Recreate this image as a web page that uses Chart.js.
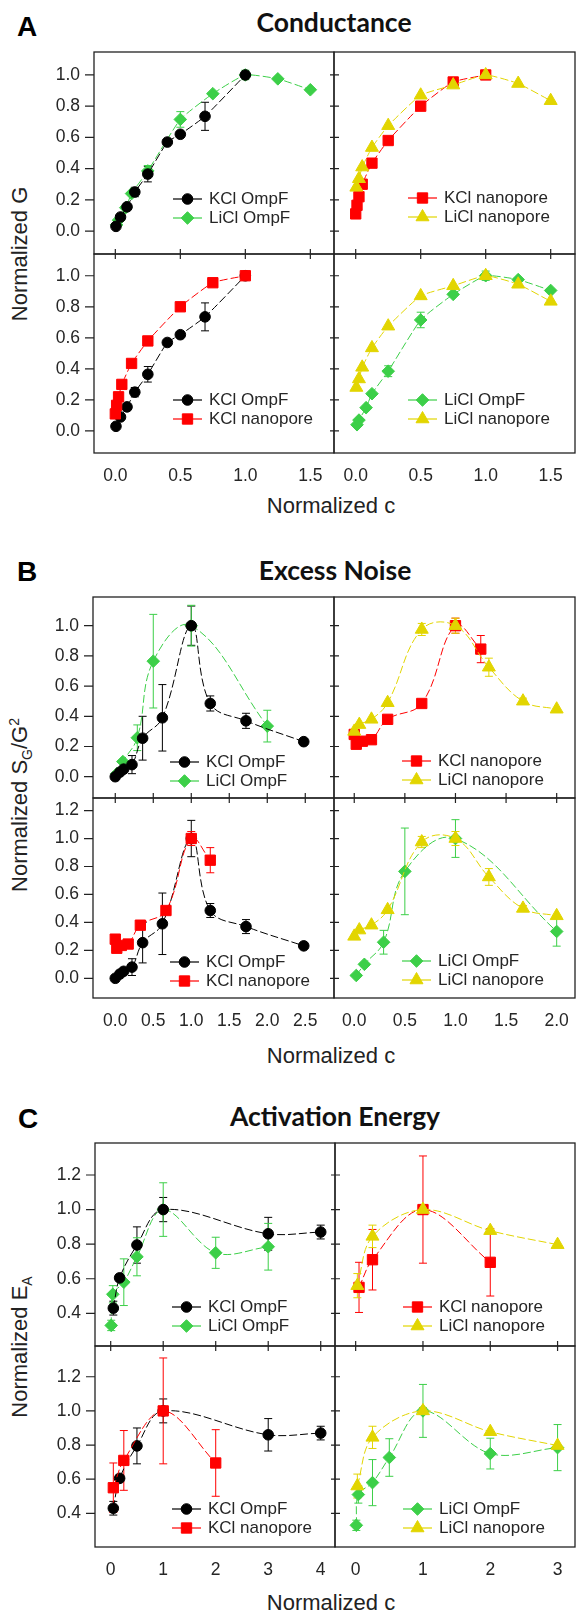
<!DOCTYPE html>
<html>
<head>
<meta charset="utf-8">
<script src="https://cdn.jsdelivr.net/npm/chart.js@4.4.1/dist/chart.umd.min.js"></script>
<style>
  html, body { margin: 0; padding: 0; background: #fff; }
  body { width: 576px; height: 1613px; position: relative; overflow: hidden; }
  canvas { position: absolute; }
  .lbl { position: absolute; font: bold 28px "Liberation Sans", Arial, sans-serif; line-height: 1; color: #000; }
  .ttl { position: absolute; font: bold 26.5px Lato, sans-serif; line-height: 1; color: #111; transform: translateX(-50%); white-space: nowrap; }
  .ax { position: absolute; font: 22px "Liberation Sans", Arial, sans-serif; line-height: 1; color: #222; white-space: nowrap; transform: translate(-50%, -50%); }
  .ax.rot { transform: translate(-50%, -50%) rotate(-90deg); }
  .ax sub, .ax sup { font-size: 14px; line-height: 0; }
</style>
</head>
<body>
<div class="lbl" style="left:17px;top:13px">A</div>
<div class="lbl" style="left:17px;top:558px">B</div>
<div class="lbl" style="left:18px;top:1105px">C</div>
<div class="ttl" style="left:334px;top:9px">Conductance</div>
<div class="ttl" style="left:335px;top:557px">Excess Noise</div>
<div class="ttl" style="left:335px;top:1103px">Activation Energy</div>
<div class="ax rot" style="left:20px;top:254px">Normalized G</div>
<div class="ax rot" style="left:20px;top:805px">Normalized S<sub>G</sub>/G<sup>2</sup></div>
<div class="ax rot" style="left:20px;top:1347px">Normalized E<sub>A</sub></div>
<div class="ax" style="left:331px;top:506px">Normalized c</div>
<div class="ax" style="left:331px;top:1056px">Normalized c</div>
<div class="ax" style="left:331px;top:1603px">Normalized c</div>

<script>
// ---- A: conductance (normalized G vs normalized c)
const gKclOmpfC   = [0.005, 0.04, 0.09, 0.15, 0.25, 0.4, 0.5, 0.69, 1.0];
const gKclOmpf    = [0.03, 0.09, 0.155, 0.25, 0.365, 0.57, 0.62, 0.735, 1.0];
const gKclOmpfErr = [0, 0, 0.01, 0.03, 0.05, 0, 0.015, 0.09, 0];
const gLiclOmpfC   = [0.01, 0.025, 0.08, 0.125, 0.25, 0.5, 0.75, 1.0, 1.25, 1.5];
const gLiclOmpf    = [0.04, 0.07, 0.15, 0.24, 0.385, 0.715, 0.88, 1.0, 0.975, 0.905];
const gLiclOmpfErr = [0, 0, 0, 0, 0.035, 0.05, 0, 0.03, 0, 0];
const gKclNanoC = [0.0, 0.01, 0.025, 0.05, 0.125, 0.25, 0.5, 0.75, 1.0];
const gKclNano  = [0.11, 0.165, 0.22, 0.3, 0.435, 0.58, 0.80, 0.955, 1.0];
const gLiclNanoC = [0.005, 0.025, 0.05, 0.125, 0.25, 0.5, 0.75, 1.0, 1.25, 1.5];
const gLiclNano  = [0.28, 0.335, 0.41, 0.535, 0.675, 0.87, 0.935, 1.0, 0.945, 0.835];
const gTicksX = [0, 0.5, 1.0, 1.5];
const gTicksY = [0, 0.2, 0.4, 0.6, 0.8, 1.0];

// ---- B: excess noise (normalized S_G/G^2)
const nKclOmpfC   = [0.0, 0.06, 0.11, 0.22, 0.36, 0.62, 1.0, 1.25, 1.72, 2.48];
const nKclOmpf    = [0.0, 0.03, 0.05, 0.08, 0.255, 0.39, 1.0, 0.485, 0.37, 0.232];
const nKclOmpfErr = [0, 0, 0, 0.06, 0.145, 0.22, 0.13, 0.05, 0.05, 0.02];
const nLiclOmpfC   = [0.02, 0.1, 0.29, 0.5, 1.0, 2.0];
const nLiclOmpf    = [0.02, 0.1, 0.258, 0.765, 1.0, 0.335];
const nLiclOmpfErr = [0, 0, 0.085, 0.31, 0.135, 0.105];
const nKclNanoC   = [0.0, 0.02, 0.08, 0.17, 0.33, 0.667, 1.0, 1.25];
const nKclNano    = [0.28, 0.215, 0.235, 0.245, 0.38, 0.485, 1.0, 0.845];
const nKclNanoErr = [0, 0, 0, 0, 0, 0, 0.05, 0.09];
const nLiclNanoC   = [0.0, 0.05, 0.17, 0.33, 0.667, 1.0, 1.33, 1.667, 2.0];
const nLiclNano    = [0.30, 0.345, 0.38, 0.49, 0.975, 1.0, 0.725, 0.5, 0.447];
const nLiclNanoErr = [0, 0, 0, 0, 0.04, 0.05, 0.06, 0.02, 0];
const nTicksXLeft  = [0, 0.5, 1.0, 1.5, 2.0, 2.5];
const nTicksXRight = [0, 0.5, 1.0, 1.5, 2.0];
const nTicksYTop    = [0, 0.2, 0.4, 0.6, 0.8, 1.0];
const nTicksYBottom = [0, 0.2, 0.4, 0.6, 0.8, 1.0, 1.2];

// ---- C: activation energy (normalized E_A)
const eKclOmpfC   = [0.05, 0.17, 0.5, 1.0, 3.0, 4.0];
const eKclOmpf    = [0.43, 0.605, 0.795, 1.0, 0.86, 0.87];
const eKclOmpfErr = [0.04, 0.02, 0.105, 0.07, 0.095, 0.04];
const eLiclOmpfC   = [0.01, 0.04, 0.25, 0.5, 1.0, 2.0, 3.0];
const eLiclOmpf    = [0.33, 0.51, 0.58, 0.727, 1.0, 0.75, 0.785];
const eLiclOmpfErr = [0.03, 0.05, 0.135, 0.11, 0.155, 0.09, 0.135];
const eKclNanoC   = [0.05, 0.25, 1.0, 2.0];
const eKclNano    = [0.55, 0.71, 1.0, 0.695];
const eKclNanoErr = [0.145, 0.175, 0.31, 0.195];
const eLiclNanoC   = [0.025, 0.25, 1.0, 2.0, 3.0];
const eLiclNano    = [0.56, 0.845, 1.0, 0.878, 0.797];
const eLiclNanoErr = [0.07, 0.065, 0.02, 0, 0];
const eTicksXLeft  = [0, 1, 2, 3, 4];
const eTicksXRight = [0, 1, 2, 3];
const eTicksY = [0.4, 0.6, 0.8, 1.0, 1.2];

const FONT = '"Liberation Sans", Arial, sans-serif';
Chart.defaults.font.family = FONT;
Chart.defaults.color = '#262626';

const SERIES = {
  kclOmpf:  { label: 'KCl OmpF',      color: '#000000', pointStyle: 'circle',   radius: 5.3 },
  liclOmpf: { label: 'LiCl OmpF',     color: '#3ccf48', pointStyle: 'rectRot',  radius: 6.3 },
  kclNano:  { label: 'KCl nanopore',  color: '#ff0000', pointStyle: 'rect',     radius: 7.3 },
  liclNano: { label: 'LiCl nanopore', color: '#e2d500', pointStyle: 'triangle', radius: 7.5 },
};

function series(key, xs, ys, errs, order, tension) {
  const s = SERIES[key];
  return {
    label: s.label,
    data: xs.map((x, i) => ({ x: x, y: ys[i] })),
    err: errs || null,
    borderColor: s.color, backgroundColor: s.color,
    borderWidth: 1, borderDash: [8, 3],
    pointStyle: s.pointStyle, pointRadius: s.radius, pointBorderWidth: 1,
    pointBackgroundColor: s.color, pointBorderColor: s.color,
    showLine: true, tension: tension, order: order, clip: false
  };
}

// vertical error bars, drawn under the markers
const errorBars = {
  id: 'errorBars',
  beforeDatasetsDraw(chart) {
    const { ctx, scales: { x, y } } = chart;
    chart.data.datasets.forEach(ds => {
      if (!ds.err) return;
      ctx.save();
      ctx.strokeStyle = ds.borderColor;
      ctx.lineWidth = 1;
      ctx.beginPath();
      ds.data.forEach((p, j) => {
        const e = ds.err[j];
        if (!e) return;
        const px = x.getPixelForValue(p.x);
        const top = y.getPixelForValue(p.y + e), bot = y.getPixelForValue(p.y - e);
        ctx.moveTo(px, top); ctx.lineTo(px, bot);
        ctx.moveTo(px - 4, top); ctx.lineTo(px + 4, top);
        ctx.moveTo(px - 4, bot); ctx.lineTo(px + 4, bot);
      });
      ctx.stroke();
      ctx.restore();
    });
  }
};

// box around the plot area + tick marks
const framePlugin = {
  id: 'frame',
  afterDraw(chart, args, o) {
    const { ctx, chartArea: a, scales: { x, y } } = chart;
    ctx.save();
    ctx.strokeStyle = '#222';
    ctx.lineWidth = 1.3;
    ctx.strokeRect(a.left, a.top, a.right - a.left, a.bottom - a.top);
    ctx.lineWidth = 1.2;
    ctx.beginPath();
    o.yTicks.forEach(v => {
      const py = y.getPixelForValue(v);
      ctx.moveTo(a.left - o.yOut, py); ctx.lineTo(a.left + o.yIn, py);
    });
    if (o.xTicks) o.xTicks.forEach(v => {
      const px = x.getPixelForValue(v);
      ctx.moveTo(px, a.bottom - 5); ctx.lineTo(px, a.bottom + 5);
    });
    ctx.stroke();
    ctx.restore();
  }
};

// legend in the lower right of each panel: line + marker + text
const legendPlugin = {
  id: 'panelLegend',
  afterDraw(chart, args, o) {
    const { ctx, chartArea: a } = chart;
    chart.data.datasets.forEach((ds, i) => {
      const yy = a.bottom - o.y + i * 19;
      const x0 = a.left + o.x;
      ctx.save();
      ctx.strokeStyle = ds.borderColor;
      ctx.fillStyle = ds.borderColor;
      ctx.lineWidth = 1.2;
      ctx.beginPath(); ctx.moveTo(x0, yy); ctx.lineTo(x0 + 29, yy); ctx.stroke();
      ctx.lineWidth = 1;
      Chart.helpers.drawPoint(ctx, { pointStyle: ds.pointStyle, radius: ds.pointRadius, rotation: 0, borderWidth: 1 }, x0 + 14.5, yy);
      ctx.fillStyle = '#262626';
      ctx.font = '17px ' + FONT;
      ctx.textBaseline = 'middle';
      ctx.fillText(ds.label, x0 + 36, yy);
      ctx.restore();
    });
  }
};

function makePanel(f, p) {
  const PAD = 30, YW = 56, XH = 32;
  const padL = p.yLabels ? PAD + YW : PAD;
  const padB = p.xLabels ? PAD + XH : PAD;
  const cv = document.createElement('canvas');
  cv.width = f.r - f.l + padL + PAD;
  cv.height = f.b - f.t + PAD + padB;
  cv.style.left = (f.l - padL) + 'px';
  cv.style.top = (f.t - PAD) + 'px';
  document.body.appendChild(cv);
  return new Chart(cv, {
    type: 'scatter',
    data: { datasets: p.datasets },
    options: {
      responsive: false, animation: false, events: [],
      layout: { padding: PAD },
      plugins: {
        legend: { display: false }, tooltip: { enabled: false },
        frame: { yTicks: p.yTicks, yOut: p.yLabels ? 9 : 4, yIn: p.yLabels ? 0 : 5, xTicks: p.xCross ? p.xTicks : null },
        panelLegend: p.legend
      },
      scales: {
        x: {
          type: 'linear', min: p.xMin, max: p.xMax, display: !!p.xLabels,
          grid: { display: false, drawTicks: false }, border: { display: false },
          afterBuildTicks: s => { s.ticks = p.xTicks.map(v => ({ value: v })); },
          afterFit: s => { s.height = p.xLabels ? XH : 0; },
          ticks: { font: { size: 17.5 }, padding: 13, maxRotation: 0, autoSkip: false, callback: v => v.toFixed(p.xDec) }
        },
        y: {
          type: 'linear', min: p.yMin, max: p.yMax, display: !!p.yLabels,
          grid: { display: false, drawTicks: false }, border: { display: false },
          afterBuildTicks: s => { s.ticks = p.yTicks.map(v => ({ value: v })); },
          afterFit: s => { s.width = p.yLabels ? YW : 0; },
          ticks: { font: { size: 17.5 }, padding: 14, autoSkip: false, callback: v => v.toFixed(1) }
        }
      }
    },
    plugins: [errorBars, framePlugin, legendPlugin]
  });
}

// ---------- A ----------
const tA = 0.15;
makePanel({ l: 94, t: 52, r: 334, b: 254 }, {
  xMin: -0.164, xMax: 1.682, xTicks: gTicksX, xDec: 1, xCross: true,
  yMin: -0.147, yMax: 1.147, yTicks: gTicksY, yLabels: true,
  legend: { x: 79, y: 55 },
  datasets: [series('kclOmpf', gKclOmpfC, gKclOmpf, gKclOmpfErr, 0, tA),
             series('liclOmpf', gLiclOmpfC, gLiclOmpf, gLiclOmpfErr, 1, tA)]
});
makePanel({ l: 334, t: 52, r: 575, b: 254 }, {
  xMin: -0.167, xMax: 1.687, xTicks: gTicksX, xDec: 1, xCross: true,
  yMin: -0.147, yMax: 1.147, yTicks: gTicksY,
  legend: { x: 74, y: 56 },
  datasets: [series('kclNano', gKclNanoC, gKclNano, null, 1, tA),
             series('liclNano', gLiclNanoC, gLiclNano, null, 0, tA)]
});
makePanel({ l: 94, t: 254, r: 334, b: 453 }, {
  xMin: -0.164, xMax: 1.682, xTicks: gTicksX, xDec: 1, xLabels: true,
  yMin: -0.142, yMax: 1.14, yTicks: gTicksY, yLabels: true,
  legend: { x: 79, y: 53 },
  datasets: [series('kclOmpf', gKclOmpfC, gKclOmpf, gKclOmpfErr, 1, tA),
             series('kclNano', gKclNanoC, gKclNano, null, 0, tA)]
});
makePanel({ l: 334, t: 254, r: 575, b: 453 }, {
  xMin: -0.167, xMax: 1.687, xTicks: gTicksX, xDec: 1, xLabels: true,
  yMin: -0.142, yMax: 1.14, yTicks: gTicksY,
  legend: { x: 74, y: 53 },
  datasets: [series('liclOmpf', gLiclOmpfC, gLiclOmpf, gLiclOmpfErr, 1, tA),
             series('liclNano', gLiclNanoC, gLiclNano, null, 0, tA)]
});

// ---------- B ----------
const tB = 0.4;
makePanel({ l: 93, t: 597, r: 334, b: 798 }, {
  xMin: -0.293, xMax: 2.878, xTicks: nTicksXLeft, xDec: 1, xCross: true,
  yMin: -0.141, yMax: 1.19, yTicks: nTicksYTop, yLabels: true,
  legend: { x: 77, y: 36 },
  datasets: [series('kclOmpf', nKclOmpfC, nKclOmpf, nKclOmpfErr, 0, tB),
             series('liclOmpf', nLiclOmpfC, nLiclOmpf, nLiclOmpfErr, 1, tB)]
});
makePanel({ l: 334, t: 597, r: 575, b: 798 }, {
  xMin: -0.2, xMax: 2.181, xTicks: nTicksXRight, xDec: 1, xCross: true,
  yMin: -0.141, yMax: 1.19, yTicks: nTicksYTop,
  legend: { x: 68, y: 37 },
  datasets: [series('kclNano', nKclNanoC, nKclNano, nKclNanoErr, 1, tB),
             series('liclNano', nLiclNanoC, nLiclNano, nLiclNanoErr, 0, tB)]
});
makePanel({ l: 93, t: 798, r: 334, b: 998 }, {
  xMin: -0.293, xMax: 2.878, xTicks: nTicksXLeft, xDec: 1, xLabels: true,
  yMin: -0.141, yMax: 1.29, yTicks: nTicksYBottom, yLabels: true,
  legend: { x: 77, y: 36 },
  datasets: [series('kclOmpf', nKclOmpfC, nKclOmpf, nKclOmpfErr, 1, tB),
             series('kclNano', nKclNanoC, nKclNano, nKclNanoErr, 0, tB)]
});
makePanel({ l: 334, t: 798, r: 575, b: 998 }, {
  xMin: -0.2, xMax: 2.181, xTicks: nTicksXRight, xDec: 1, xLabels: true,
  yMin: -0.141, yMax: 1.29, yTicks: nTicksYBottom,
  legend: { x: 68, y: 37 },
  datasets: [series('liclOmpf', nLiclOmpfC, nLiclOmpf, nLiclOmpfErr, 1, tB),
             series('liclNano', nLiclNanoC, nLiclNano, nLiclNanoErr, 0, tB)]
});

// ---------- C ----------
const tC = 0.35;
makePanel({ l: 95, t: 1143, r: 335, b: 1346 }, {
  xMin: -0.299, xMax: 4.272, xTicks: eTicksXLeft, xDec: 0, xCross: true,
  yMin: 0.211, yMax: 1.385, yTicks: eTicksY, yLabels: true,
  legend: { x: 77, y: 39 },
  datasets: [series('kclOmpf', eKclOmpfC, eKclOmpf, eKclOmpfErr, 0, tC),
             series('liclOmpf', eLiclOmpfC, eLiclOmpf, eLiclOmpfErr, 1, tC)]
});
makePanel({ l: 335, t: 1143, r: 575, b: 1346 }, {
  xMin: -0.307, xMax: 3.259, xTicks: eTicksXRight, xDec: 0, xCross: true,
  yMin: 0.211, yMax: 1.385, yTicks: eTicksY,
  legend: { x: 68, y: 39 },
  datasets: [series('kclNano', eKclNanoC, eKclNano, eKclNanoErr, 1, tC),
             series('liclNano', eLiclNanoC, eLiclNano, eLiclNanoErr, 0, tC)]
});
makePanel({ l: 95, t: 1346, r: 335, b: 1547 }, {
  xMin: -0.299, xMax: 4.272, xTicks: eTicksXLeft, xDec: 0, xLabels: true,
  yMin: 0.203, yMax: 1.38, yTicks: eTicksY, yLabels: true,
  legend: { x: 77, y: 38 },
  datasets: [series('kclOmpf', eKclOmpfC, eKclOmpf, eKclOmpfErr, 1, tC),
             series('kclNano', eKclNanoC, eKclNano, eKclNanoErr, 0, tC)]
});
makePanel({ l: 335, t: 1346, r: 575, b: 1547 }, {
  xMin: -0.307, xMax: 3.259, xTicks: eTicksXRight, xDec: 0, xLabels: true,
  yMin: 0.203, yMax: 1.38, yTicks: eTicksY,
  legend: { x: 68, y: 38 },
  datasets: [series('liclOmpf', eLiclOmpfC, eLiclOmpf, eLiclOmpfErr, 1, tC),
             series('liclNano', eLiclNanoC, eLiclNano, eLiclNanoErr, 0, tC)]
});
</script>
</body>
</html>
